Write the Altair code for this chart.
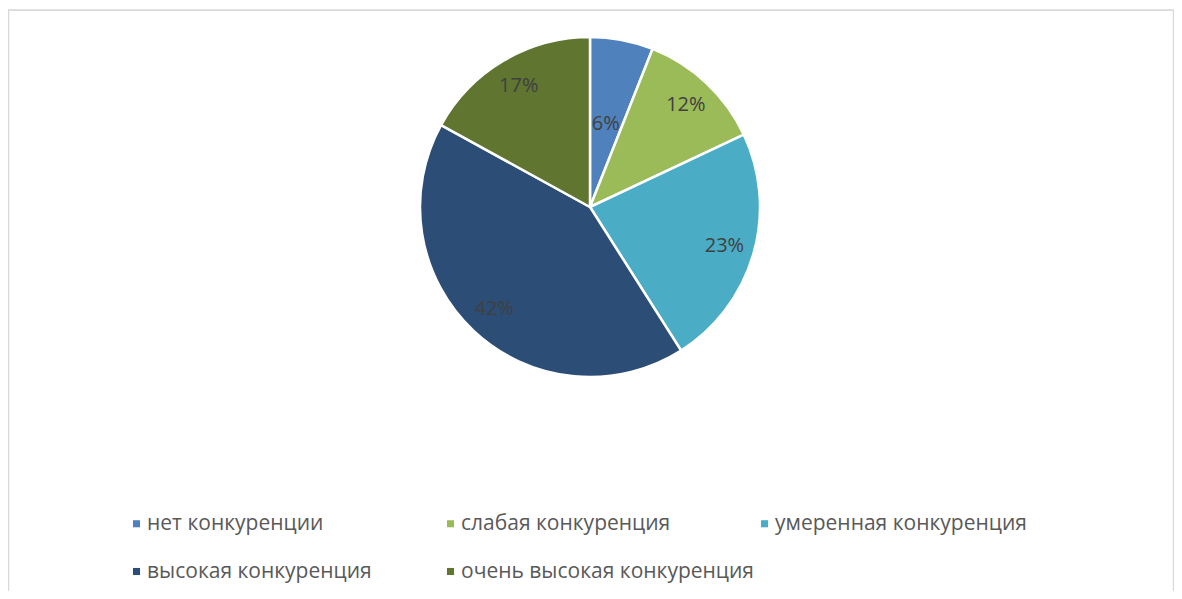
import altair as alt
import pandas as pd

categories = ["нет конкуренции", "слабая конкуренция", "умеренная конкуренция",
              "высокая конкуренция", "очень высокая конкуренция"]
values = [6, 12, 23, 42, 17]
colors = ["#4F81BD", "#9BBB59", "#4BACC6", "#2C4D75", "#5F7530"]

df = pd.DataFrame({
    "cat": categories,
    "val": values,
    "idx": list(range(len(categories))),
    "label": [f"{v}%" for v in values],
})

W, H = 1166, 581
CX, CY, R = 582, 197, 170
FONT = "Open Sans"

base = alt.Chart(df).encode(
    theta=alt.Theta("val:Q", stack=True),
    order=alt.Order("idx:O"),
)

frame = alt.Chart(df).transform_filter("datum.idx == 0").mark_rect(
    fill=None, stroke="#D9D9D9", strokeWidth=1.5
).encode(x=alt.value(0.5), x2=alt.value(W - 0.5), y=alt.value(0), y2=alt.value(H + 30))

pie = base.mark_arc(radius=R, stroke="white", strokeWidth=2.5).encode(
    x=alt.value(CX), y=alt.value(CY),
    color=alt.Color(
        "cat:N",
        scale=alt.Scale(domain=categories, range=colors),
        sort=categories,
        legend=alt.Legend(
            title=None, orient="none", legendX=118, legendY=503, direction="horizontal",
            columns=3, gridAlign="all", columnPadding=-4, rowPadding=26,
            symbolType="square", symbolSize=50, symbolStrokeWidth=0,
            labelFont=FONT, labelFontSize=21, labelColor="#595959",
            labelOffset=0, padding=0, labelLimit=400,
        ),
    ),
)

labels_big = base.mark_text(
    radius=140, font=FONT, fontSize=20, color="#404040"
).encode(
    x=alt.value(CX), y=alt.value(CY),
    text=alt.condition("datum.val >= 10", "label:N", alt.value("")),
)

labels_small = base.mark_text(
    radius=84, font=FONT, fontSize=20, color="#404040"
).encode(
    x=alt.value(CX), y=alt.value(CY),
    text=alt.condition("datum.val < 10", "label:N", alt.value("")),
)

chart = alt.layer(frame, pie, labels_big, labels_small).properties(
    width=W, height=H,
    padding={"left": 0, "top": 2, "right": 0, "bottom": 0},
    autosize=alt.AutoSizeParams(type="none"),
).configure_view(stroke=None).configure(background="white")

chart.save("out.html", embed_options={"renderer": "svg", "actions": False})
